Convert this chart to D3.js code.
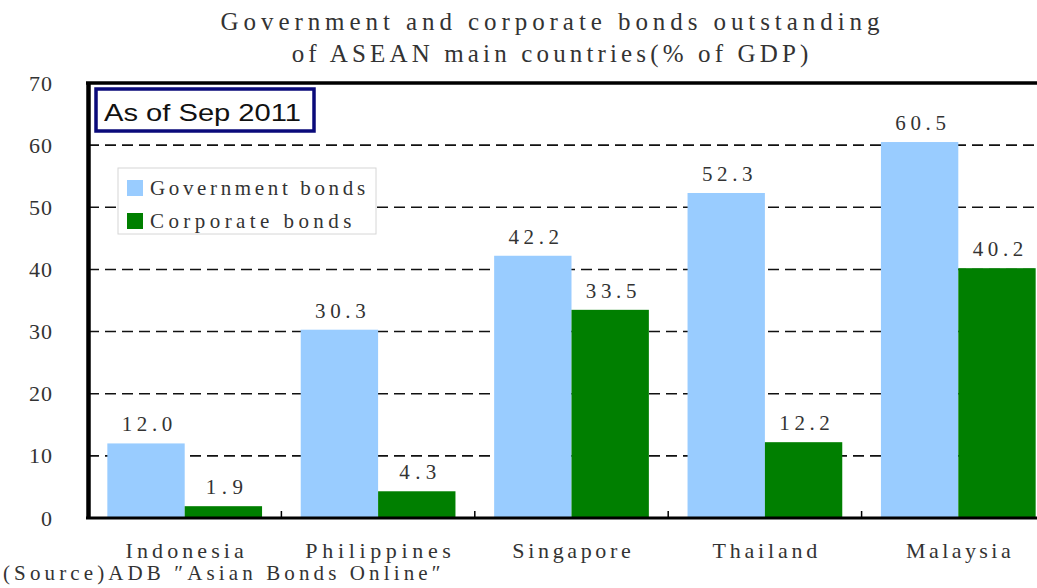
<!DOCTYPE html>
<html>
<head>
<meta charset="utf-8">
<script src="https://cdn.jsdelivr.net/npm/d3@7"></script>
<style>
  body { margin: 0; background: #fff; }
  svg { display: block; }
</style>
</head>
<body>
<svg id="chart" width="1037" height="588"></svg>
<script>
// Bond market size of the main ASEAN economies, % of GDP
const countries = ["Indonesia", "Philippines", "Singapore", "Thailand", "Malaysia"];
const seriesNames = ["Government bonds", "Corporate bonds"];
const governmentBonds = [12.0, 30.3, 42.2, 52.3, 60.5];
const corporateBonds = [1.9, 4.3, 33.5, 12.2, 40.2];
const yTicks = [0, 10, 20, 30, 40, 50, 60, 70];
const titleLines = ["Government and corporate bonds outstanding", "of ASEAN main countries(% of GDP)"];
const asOfNote = "As of Sep 2011";
const sourceNote = "(Source)ADB \u2033Asian Bonds Online\u2033";

const seriesValues = [governmentBonds, corporateBonds];
const seriesColors = ["#99ccff", "#007f00"];

const svg = d3.select("#chart");
const serif = "'Liberation Serif', 'DejaVu Serif', serif";
const textColor = "#333";

// Fixed-pitch look: every character gets the same advance
const pitch = (sel, adv) => sel
  .attr("textLength", d => String(d).length * adv - adv * 0.3)
  .attr("lengthAdjust", "spacing");

// Plot geometry: the category step is fixed, so the last group runs past the right edge
const plotLeft = 88;
const step = 193.4;
const plotTop = 83, plotBottom = 518;

const x = d3.scaleBand()
  .domain(countries)
  .range([plotLeft, plotLeft + step * countries.length])
  .paddingInner(0.2)
  .paddingOuter(0.1);

const xs = d3.scaleBand()
  .domain(seriesNames)
  .range([0, x.bandwidth()]);

const y = d3.scaleLinear()
  .domain([0, 70])
  .range([plotBottom, plotTop]);

// Title
svg.append("g")
  .selectAll("text")
  .data(titleLines)
  .join("text")
  .attr("x", 550)
  .attr("y", (d, i) => 30 + i * 32)
  .attr("text-anchor", "middle")
  .attr("font-family", serif)
  .attr("font-size", 25)
  .attr("fill", textColor)
  .text(d => d)
  .call(pitch, 15.8);

// Dashed gridlines
svg.append("g")
  .selectAll("line")
  .data(yTicks.filter(v => v > 0 && v < 70))
  .join("line")
  .attr("x1", plotLeft)
  .attr("x2", 1037)
  .attr("y1", d => y(d))
  .attr("y2", d => y(d))
  .attr("stroke", "#111")
  .attr("stroke-width", 1.6)
  .attr("stroke-dasharray", "11,6");

// Bars
const groups = svg.append("g")
  .selectAll("g")
  .data(countries)
  .join("g")
  .attr("transform", d => `translate(${x(d)},0)`);

const cells = (c, i) => seriesNames.map((s, k) => ({ s, k, v: seriesValues[k][i] }));

groups.selectAll("rect")
  .data(cells)
  .join("rect")
  .attr("x", d => xs(d.s))
  .attr("width", xs.bandwidth())
  .attr("y", d => y(d.v))
  .attr("height", d => y(0) - y(d.v))
  .attr("fill", d => seriesColors[d.k]);

// Value labels
groups.selectAll("text")
  .data(cells)
  .join("text")
  .attr("x", d => xs(d.s) + xs.bandwidth() / 2 + 1)
  .attr("y", d => y(d.v) - 12)
  .attr("text-anchor", "middle")
  .attr("font-family", serif)
  .attr("font-size", 21)
  .attr("fill", textColor)
  .text(d => d3.format(".1f")(d.v))
  .attr("textLength", d => d3.format(".1f")(d.v).length * 13.4 - 3)
  .attr("lengthAdjust", "spacing");

// Top frame line at 70
svg.append("line")
  .attr("x1", plotLeft - 2).attr("x2", 1037)
  .attr("y1", y(70)).attr("y2", y(70))
  .attr("stroke", "#000").attr("stroke-width", 3.5);

// Y axis
const yAxis = svg.append("g")
  .attr("transform", `translate(${plotLeft},0)`)
  .call(d3.axisLeft(y).tickValues(yTicks).tickSize(0).tickPadding(35));
yAxis.select(".domain")
  .attr("stroke", "#000")
  .attr("stroke-width", 4.5);
yAxis.selectAll("text")
  .attr("font-family", serif)
  .attr("font-size", 22)
  .attr("letter-spacing", 1)
  .attr("fill", textColor);

// X axis
const xAxis = svg.append("g")
  .attr("transform", `translate(0,${plotBottom})`)
  .call(d3.axisBottom(x).tickSize(0).tickPadding(24));
xAxis.select(".domain").remove();
xAxis.selectAll("text")
  .attr("font-family", serif)
  .attr("font-size", 22)
  .attr("fill", textColor)
  .call(pitch, 13.6);

svg.append("line")
  .attr("x1", plotLeft - 2).attr("x2", 1037)
  .attr("y1", y(0)).attr("y2", y(0))
  .attr("stroke", "#000").attr("stroke-width", 3);

// Category boundary tick marks
svg.append("g")
  .selectAll("line")
  .data(countries.slice(1))
  .join("line")
  .attr("x1", d => x(d) - x.step() * 0.1)
  .attr("x2", d => x(d) - x.step() * 0.1)
  .attr("y1", y(0))
  .attr("y2", y(0) - 7)
  .attr("stroke", "#000")
  .attr("stroke-width", 1.5);

// Date note box
const note = svg.append("g");
note.append("rect")
  .attr("x", 96).attr("y", 89).attr("width", 218).attr("height", 42)
  .attr("fill", "#fff").attr("stroke", "#0a0a7a").attr("stroke-width", 3.5);
note.append("text")
  .attr("x", 104).attr("y", 121)
  .attr("font-family", "'Liberation Sans', Arial, sans-serif")
  .attr("font-size", 24)
  .attr("fill", "#111")
  .attr("textLength", 197)
  .attr("lengthAdjust", "spacingAndGlyphs")
  .text(asOfNote);

// Legend
const legend = svg.append("g");
legend.append("rect")
  .attr("x", 118).attr("y", 168).attr("width", 258).attr("height", 66)
  .attr("fill", "#fff").attr("stroke", "#d6d6d6").attr("stroke-width", 1);
const items = legend.selectAll("g")
  .data(seriesNames)
  .join("g")
  .attr("transform", (d, i) => `translate(127,${180 + i * 33})`);
items.append("rect")
  .attr("width", 16).attr("height", 16)
  .attr("fill", (d, i) => seriesColors[i]);
items.append("text")
  .attr("x", 23).attr("y", 15)
  .attr("font-family", serif)
  .attr("font-size", 21)
  .attr("fill", textColor)
  .text(d => d)
  .call(pitch, 13.7);

// Source
svg.append("text")
  .datum(sourceNote)
  .attr("x", 3).attr("y", 580)
  .attr("font-family", serif)
  .attr("font-size", 21)
  .attr("fill", textColor)
  .text(d => d)
  .call(pitch, 13.8);
</script>
</body>
</html>
